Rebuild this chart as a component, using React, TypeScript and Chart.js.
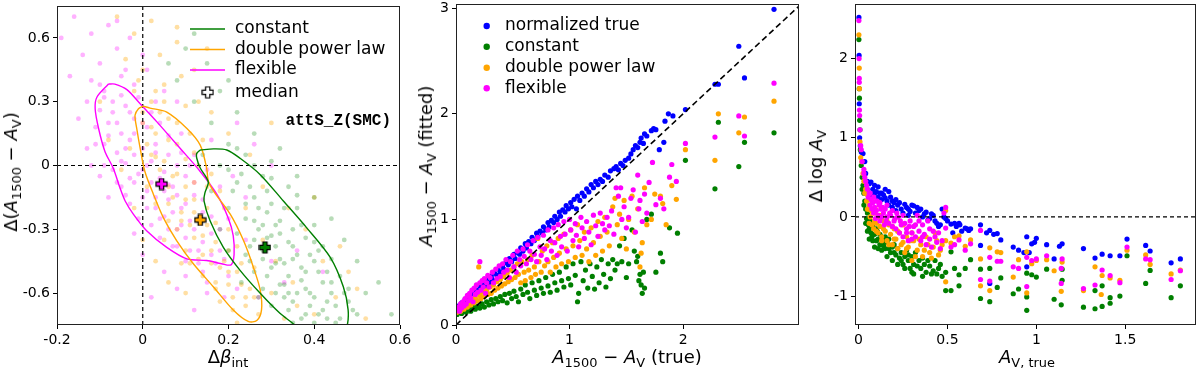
import React, { useEffect, useRef } from 'react';
import { Chart, registerables } from 'chart.js';
Chart.register(...registerables);

// ---------------- Panel 1 data ----------------
const p1XRange = [-0.2, 0.6];
const p1YRange = [-0.75, 0.75];
const p1XTicks = [-0.2, 0, 0.2, 0.4, 0.6];
const p1XTickLabels = ['-0.2', '0', '0.2', '0.4', '0.6'];
const p1YTicks = [-0.6, -0.3, 0, 0.3, 0.6];
const p1YTickLabels = ['-0.6', '-0.3', '0', '0.3', '0.6'];

const cloudFlexible = [[-0.16,0.7],[-0.12,0.62],[-0.08,0.66],[-0.14,0.52],[-0.1,0.48],[-0.06,0.55],[-0.03,0.6],[-0.17,0.42],[-0.12,0.4],[-0.09,0.35],[-0.05,0.42],[-0.02,0.38],[0.01,0.45],[-0.13,0.3],[-0.1,0.26],[-0.07,0.3],[-0.04,0.28],[-0.01,0.32],[0.02,0.25],[-0.11,0.18],[-0.08,0.2],[-0.05,0.15],[-0.02,0.22],[0.01,0.18],[0.04,0.2],[-0.09,0.1],[-0.06,0.06],[-0.03,0.12],[0,0.08],[0.03,0.1],[0.06,0.05],[-0.07,-0.02],[-0.04,0.01],[-0.01,-0.04],[0.02,0.02],[0.05,-0.03],[0.08,0.0],[-0.05,-0.1],[-0.02,-0.08],[0.01,-0.12],[0.04,-0.06],[0.07,-0.1],[0.1,-0.05],[-0.03,-0.18],[0,-0.15],[0.03,-0.2],[0.06,-0.16],[0.09,-0.2],[0.12,-0.14],[-0.01,-0.25],[0.02,-0.28],[0.05,-0.24],[0.08,-0.3],[0.11,-0.26],[0.14,-0.22],[0.04,-0.34],[0.07,-0.38],[0.1,-0.34],[0.13,-0.4],[0.16,-0.32],[0.18,-0.4],[0.1,-0.45],[0.14,-0.5],[0.17,-0.46],[0.2,-0.52],[0.15,-0.6],[0.19,-0.62],[0.22,-0.58],[0.12,-0.68],[-0.15,0.22],[-0.13,0.08],[-0.1,-0.05],[-0.08,-0.15],[0.09,0.15],[0.12,0.05],[0.15,-0.02],[0.18,-0.1],[0.2,-0.25],[0.24,-0.35],[0.3,-0.45],[0.33,-0.55],[0.27,-0.62],[0.36,-0.4],[0.26,0.1],[0.22,0.2],[0.05,0.35],[0.0,0.52],[-0.06,0.68],[0.08,0.3],[-0.19,0.6],[-0.02,-0.32],[0.0,-0.42],[0.05,-0.5],[0.08,-0.58],[0.02,-0.62],[-0.12,0.0],[0.16,0.12],[0.21,-0.05],[0.24,-0.15],[0.42,-0.5],[0.3,0.0],
  [-0.09,0.32],[-0.07,0.25],[-0.05,0.33],[-0.08,0.14],[-0.06,0.2],[-0.03,0.25],[-0.04,0.08],[-0.02,0.15],[0.0,0.2],[-0.05,0.02],[-0.02,0.05],[0.01,0.0],[0.03,0.06],[-0.03,-0.06],[0.0,-0.02],[0.02,-0.08],[0.05,-0.12],[0.03,-0.15],[0.06,-0.09],[0.08,-0.14],[0.01,-0.2],[0.04,-0.25],[0.07,-0.22],[0.1,-0.18],[0.06,-0.3],[0.09,-0.28],[0.12,-0.3],[0.08,-0.38],[0.11,-0.4],[0.14,-0.36],[0.16,-0.42],[0.13,-0.46],[0.19,-0.44],[0.12,-0.08],[0.14,-0.16],[0.16,-0.24],[0.18,-0.3],[-0.1,0.38],[-0.04,0.45],[0.03,0.3],[0.06,0.14],[0.09,0.06],[0.11,0.0],[-0.11,0.1],[-0.09,0.0],[-0.06,-0.08],[-0.04,-0.14],[0.15,-0.55],[0.1,-0.52]];
const cloudDouble = [[-0.06,0.7],[-0.02,0.62],[0.02,0.68],[-0.04,0.5],[0.0,0.45],[0.04,0.52],[0.08,0.58],[-0.02,0.35],[0.02,0.3],[0.05,0.38],[0.09,0.42],[0.0,0.2],[0.03,0.15],[0.06,0.22],[0.1,0.28],[0.13,0.3],[0.02,0.05],[0.05,0.02],[0.08,0.1],[0.11,0.15],[0.14,0.12],[0.04,-0.08],[0.07,-0.05],[0.1,-0.1],[0.13,0.0],[0.16,-0.04],[0.06,-0.18],[0.09,-0.22],[0.12,-0.16],[0.15,-0.2],[0.18,-0.12],[0.08,-0.3],[0.11,-0.28],[0.14,-0.33],[0.17,-0.27],[0.2,-0.3],[0.1,-0.4],[0.13,-0.44],[0.16,-0.4],[0.19,-0.45],[0.22,-0.38],[0.14,-0.52],[0.17,-0.55],[0.2,-0.5],[0.23,-0.56],[0.26,-0.48],[0.18,-0.64],[0.21,-0.68],[0.24,-0.62],[0.27,-0.7],[0.3,-0.6],[0.22,-0.74],[0.33,-0.72],[0.36,-0.66],[0.4,-0.7],[0.45,-0.62],[0.5,-0.58],[0.42,-0.45],[0.38,-0.3],[0.46,-0.38],[0.34,-0.2],[0.28,-0.1],[0.25,0.05],[0.2,0.15],[0.16,0.25],[0.12,0.45],[-0.1,0.3],[-0.08,0.12],[-0.05,-0.02],[-0.02,-0.2],[0.0,-0.35],[0.03,-0.45],[0.06,-0.55],[0.1,-0.6],[0.24,-0.2],[0.28,-0.35],[0.31,-0.45],[0.35,-0.55],[0.08,0.65],[0.15,0.55],[0.52,-0.72],[0.48,-0.5],[0.4,-0.15],[0.3,0.2],[0.05,-0.35],[0.09,-0.46],[0.12,-0.08],[0.01,-0.1],[-0.03,0.08],
  [0.0,0.25],[0.02,0.18],[0.04,0.25],[0.01,0.1],[0.03,0.04],[0.06,0.12],[0.04,-0.02],[0.06,-0.1],[0.08,-0.04],[0.1,0.03],[0.07,-0.15],[0.1,-0.16],[0.12,-0.22],[0.09,-0.26],[0.12,-0.34],[0.15,-0.28],[0.14,-0.42],[0.17,-0.36],[0.18,-0.48],[0.16,-0.46],[0.2,-0.56],[0.22,-0.5],[0.21,-0.62],[0.24,-0.66],[0.25,-0.58],[0.19,-0.2],[0.15,-0.1],[0.12,0.06],[0.08,0.2],[0.05,0.3],[0.13,-0.26],[0.11,-0.46],[0.06,-0.26],[0.03,-0.18],[0.2,-0.4],[0.23,-0.46],[0.26,-0.62],[0.17,-0.58],[0.03,0.35],[-0.01,0.4]];
const cloudConstant = [[0.1,0.55],[0.15,0.48],[0.08,0.4],[0.18,0.35],[0.12,0.3],[0.22,0.25],[0.16,0.2],[0.26,0.15],[0.2,0.1],[0.24,0.05],[0.3,0.02],[0.18,0.0],[0.28,-0.05],[0.22,-0.08],[0.34,-0.1],[0.26,-0.15],[0.3,-0.18],[0.2,-0.2],[0.36,-0.2],[0.24,-0.25],[0.28,-0.28],[0.32,-0.26],[0.4,-0.28],[0.22,-0.32],[0.26,-0.35],[0.3,-0.33],[0.34,-0.36],[0.38,-0.34],[0.42,-0.38],[0.24,-0.42],[0.28,-0.4],[0.32,-0.44],[0.36,-0.42],[0.4,-0.45],[0.44,-0.44],[0.26,-0.5],[0.3,-0.48],[0.34,-0.52],[0.38,-0.5],[0.42,-0.55],[0.46,-0.52],[0.28,-0.58],[0.32,-0.56],[0.36,-0.6],[0.4,-0.62],[0.44,-0.6],[0.48,-0.64],[0.3,-0.66],[0.34,-0.68],[0.38,-0.7],[0.42,-0.68],[0.46,-0.72],[0.5,-0.7],[0.35,-0.74],[0.4,-0.74],[0.45,-0.74],[0.52,-0.6],[0.55,-0.55],[0.5,-0.45],[0.47,-0.35],[0.44,-0.25],[0.4,-0.15],[0.36,-0.05],[0.32,0.08],[0.25,-0.45],[0.2,-0.4],[0.18,-0.3],[0.16,-0.12],[0.14,0.05],[0.38,-0.58],[0.33,-0.62],[0.29,-0.22],[0.27,-0.62],[0.23,-0.55],[0.37,-0.48],[0.41,-0.4],[0.35,-0.3],[0.31,-0.38],[0.27,-0.3],[0.33,-0.46],[0.39,-0.66],[0.43,-0.5],[0.48,-0.58],[0.58,-0.7],[0.12,0.62],[0.06,0.48],[0.2,0.4],
  [0.2,-0.02],[0.23,-0.04],[0.21,-0.12],[0.25,-0.1],[0.24,-0.18],[0.27,-0.2],[0.29,-0.12],[0.31,-0.28],[0.33,-0.2],[0.26,-0.26],[0.29,-0.34],[0.32,-0.32],[0.35,-0.38],[0.37,-0.28],[0.31,-0.46],[0.35,-0.44],[0.39,-0.42],[0.29,-0.52],[0.33,-0.56],[0.37,-0.54],[0.41,-0.5],[0.35,-0.64],[0.39,-0.6],[0.43,-0.64],[0.37,-0.72],[0.41,-0.7],[0.45,-0.66],[0.47,-0.6],[0.44,-0.55],[0.4,-0.36],[0.36,-0.14],[0.3,-0.06],[0.26,0.0],[0.22,0.08],[0.28,-0.44],[0.34,-0.6],[0.43,-0.72],[0.49,-0.68],[0.31,-0.6],[0.25,-0.38]];

const contourFlexible = [[-0.08,0.383],[-0.107,0.321],[-0.111,0.267],[-0.103,0.174],[-0.088,0.065],[-0.069,-0.012],[-0.053,-0.106],[-0.041,-0.167],[-0.022,-0.229],[0.009,-0.307],[0.056,-0.385],[0.103,-0.439],[0.149,-0.447],[0.184,-0.462],[0.206,-0.467],[0.213,-0.42],[0.211,-0.33],[0.2,-0.25],[0.173,-0.136],[0.134,-0.028],[0.087,0.081],[0.033,0.205],[-0.006,0.29],[-0.037,0.357],[-0.065,0.383],[-0.08,0.383]];
const contourDouble = [[0.001,0.279],[-0.01,0.267],[-0.018,0.236],[-0.014,0.174],[-0.006,0.081],[0.005,-0.028],[0.025,-0.136],[0.048,-0.245],[0.079,-0.353],[0.118,-0.462],[0.165,-0.571],[0.211,-0.679],[0.246,-0.733],[0.266,-0.729],[0.277,-0.679],[0.274,-0.586],[0.258,-0.478],[0.235,-0.353],[0.204,-0.229],[0.165,-0.121],[0.153,-0.074],[0.149,-0.012],[0.134,0.096],[0.103,0.174],[0.056,0.251],[0.017,0.27],[0.001,0.279]];
const contourConstant = [[0.134,0.073],[0.165,0.078],[0.196,0.073],[0.227,0.034],[0.274,-0.043],[0.328,-0.167],[0.382,-0.292],[0.437,-0.431],[0.468,-0.571],[0.479,-0.679],[0.476,-0.76],[0.46,-0.82],[0.38,-0.8],[0.351,-0.744],[0.32,-0.695],[0.274,-0.601],[0.227,-0.493],[0.188,-0.385],[0.157,-0.26],[0.143,-0.167],[0.145,-0.129],[0.153,-0.082],[0.149,-0.059],[0.134,-0.012],[0.126,0.034],[0.126,0.057],[0.134,0.073]];

const medianFlexible = [[0.044, -0.087]];
const medianDouble = [[0.134, -0.256]];
const medianConstant = [[0.285, -0.385]];
const p1ZeroV = [[0, -0.75], [0, 0.75]];
const p1ZeroH = [[-0.2, 0], [0.6, 0]];

// ---------------- Panel 2 data ----------------
const p2XRange = [0, 3.02];
const p2YRange = [0, 3.04];
const p2XTicks = [0, 1, 2];
const p2XTickLabels = ['0', '1', '2'];
const p2YTicks = [0, 1, 2, 3];
const p2YTickLabels = ['0', '1', '2', '3'];

const p2True = [[0.01,0.14],[0.02,0.18],[0.04,0.16],[0.05,0.21],[0.07,0.19],[0.08,0.24],[0.1,0.22],[0.11,0.27],[0.13,0.25],[0.14,0.3],[0.16,0.28],[0.18,0.33],[0.19,0.31],[0.21,0.37],[0.22,0.34],[0.24,0.39],[0.26,0.37],[0.27,0.43],[0.29,0.4],[0.31,0.46],[0.32,0.43],[0.34,0.49],[0.36,0.47],[0.37,0.53],[0.39,0.5],[0.41,0.56],[0.42,0.53],[0.44,0.59],[0.46,0.57],[0.47,0.63],[0.49,0.6],[0.51,0.67],[0.52,0.63],[0.54,0.69],[0.56,0.67],[0.57,0.73],[0.59,0.7],[0.61,0.77],[0.62,0.73],[0.64,0.79],[0.66,0.77],[0.67,0.83],[0.69,0.8],[0.71,0.87],[0.72,0.84],[0.74,0.89],[0.76,0.87],[0.77,0.93],[0.79,0.9],[0.81,0.97],[0.82,0.93],[0.84,0.99],[0.86,0.97],[0.87,1.03],[0.89,1.0],[0.91,1.07],[0.92,1.03],[0.94,1.09],[0.96,1.07],[0.97,1.13],[0.99,1.1],[1.01,1.16],[1.02,1.12],[1.04,1.19],[1.06,1.1],[1.07,1.22],[1.09,1.18],[1.11,1.25],[1.13,1.22],[1.15,1.29],[1.17,1.26],[1.19,1.33],[1.21,1.3],[1.23,1.36],[1.25,1.33],[1.27,1.38],[1.29,1.36],[1.31,1.42],[1.34,1.4],[1.36,1.46],[1.39,1.48],[1.41,1.5],[1.43,1.47],[1.45,1.53],[1.47,1.51],[1.49,1.56],[1.52,1.58],[1.54,1.62],[1.56,1.66],[1.58,1.7],[1.6,1.68],[1.62,1.73],[1.63,1.77],[1.65,1.72],[1.66,1.81],[1.68,1.79],[1.72,1.84],[1.74,1.86],[1.76,1.85],[1.79,1.66],[1.83,1.73],[1.84,1.93],[1.87,2.0],[1.91,1.98],[2.02,2.04],[2.28,2.28],[2.31,2.28],[2.49,2.64],[2.54,2.34],[2.8,2.99]];
const p2Constant = [[0.01,0.1],[0.03,0.12],[0.05,0.11],[0.07,0.14],[0.09,0.12],[0.11,0.15],[0.13,0.13],[0.15,0.17],[0.17,0.15],[0.19,0.18],[0.21,0.16],[0.23,0.2],[0.25,0.17],[0.27,0.22],[0.29,0.19],[0.31,0.24],[0.33,0.2],[0.35,0.25],[0.37,0.22],[0.39,0.27],[0.41,0.23],[0.43,0.29],[0.45,0.21],[0.47,0.3],[0.49,0.25],[0.51,0.32],[0.53,0.27],[0.55,0.22],[0.57,0.34],[0.59,0.29],[0.61,0.38],[0.63,0.31],[0.65,0.25],[0.67,0.4],[0.69,0.33],[0.71,0.28],[0.73,0.42],[0.75,0.35],[0.77,0.3],[0.79,0.45],[0.81,0.37],[0.83,0.31],[0.85,0.48],[0.87,0.4],[0.89,0.33],[0.91,0.5],[0.93,0.42],[0.95,0.36],[0.97,0.55],[0.99,0.44],[1.01,0.38],[1.03,0.58],[1.05,0.47],[1.07,0.22],[1.08,0.3],[1.1,0.6],[1.12,0.42],[1.14,0.52],[1.16,0.35],[1.18,0.58],[1.2,0.46],[1.22,0.34],[1.24,0.55],[1.26,0.4],[1.28,0.62],[1.3,0.48],[1.32,0.36],[1.34,0.58],[1.36,0.44],[1.38,0.62],[1.4,0.52],[1.42,0.58],[1.44,0.75],[1.46,0.6],[1.48,0.82],[1.5,0.45],[1.52,0.58],[1.55,0.9],[1.57,0.7],[1.59,0.6],[1.6,0.65],[1.61,0.42],[1.62,0.48],[1.63,0.38],[1.64,0.3],[1.65,0.5],[1.66,0.35],[1.68,1.0],[1.72,1.05],[1.76,0.5],[1.8,0.68],[1.82,0.6],[1.88,0.92],[1.95,0.87],[2.02,1.56],[2.28,1.29],[2.31,1.92],[2.49,1.5],[2.54,1.73],[2.8,1.82]];
const p2Double = [[0.01,0.12],[0.02,0.15],[0.04,0.13],[0.05,0.17],[0.07,0.15],[0.08,0.19],[0.1,0.17],[0.11,0.21],[0.13,0.19],[0.14,0.24],[0.16,0.21],[0.17,0.26],[0.19,0.23],[0.2,0.55],[0.21,0.28],[0.22,0.25],[0.24,0.31],[0.25,0.27],[0.27,0.33],[0.28,0.29],[0.3,0.36],[0.31,0.3],[0.33,0.38],[0.34,0.33],[0.36,0.41],[0.37,0.35],[0.39,0.43],[0.4,0.37],[0.42,0.46],[0.43,0.39],[0.45,0.49],[0.46,0.41],[0.48,0.52],[0.49,0.43],[0.51,0.55],[0.52,0.45],[0.54,0.58],[0.55,0.48],[0.57,0.4],[0.58,0.6],[0.6,0.5],[0.61,0.42],[0.63,0.62],[0.64,0.52],[0.66,0.45],[0.67,0.66],[0.69,0.55],[0.7,0.48],[0.72,0.82],[0.73,0.6],[0.75,0.5],[0.76,0.7],[0.78,0.56],[0.8,0.75],[0.81,0.6],[0.83,0.5],[0.85,0.78],[0.86,0.64],[0.88,0.55],[0.9,0.82],[0.91,0.68],[0.93,0.58],[0.95,0.86],[0.97,0.72],[0.99,0.6],[1.01,0.9],[1.03,0.75],[1.05,0.64],[1.07,0.95],[1.09,0.8],[1.11,0.66],[1.13,0.88],[1.15,0.72],[1.17,0.6],[1.19,0.92],[1.21,0.78],[1.23,0.66],[1.25,0.98],[1.27,0.84],[1.29,0.7],[1.31,1.02],[1.33,0.88],[1.35,0.75],[1.38,1.12],[1.4,1.2],[1.42,0.95],[1.44,1.05],[1.46,0.82],[1.48,1.18],[1.5,0.72],[1.52,1.0],[1.55,1.22],[1.57,0.88],[1.6,1.1],[1.62,0.55],[1.63,0.68],[1.64,0.78],[1.66,1.3],[1.68,0.95],[1.72,1.0],[1.75,1.24],[1.8,1.22],[1.82,1.15],[1.85,0.95],[1.9,1.32],[1.94,1.19],[2.02,1.66],[2.28,1.56],[2.31,2.0],[2.49,1.82],[2.54,1.97],[2.8,2.12]];
const p2Flexible = [[0.01,0.14],[0.02,0.17],[0.03,0.13],[0.04,0.2],[0.05,0.16],[0.06,0.22],[0.07,0.18],[0.08,0.25],[0.09,0.2],[0.1,0.28],[0.11,0.23],[0.12,0.3],[0.13,0.26],[0.14,0.33],[0.15,0.22],[0.16,0.35],[0.17,0.29],[0.18,0.38],[0.19,0.31],[0.21,0.6],[0.21,0.4],[0.22,0.33],[0.23,0.42],[0.24,0.36],[0.25,0.44],[0.26,0.3],[0.27,0.4],[0.28,0.47],[0.29,0.36],[0.3,0.45],[0.32,0.5],[0.33,0.4],[0.35,0.53],[0.36,0.44],[0.38,0.56],[0.39,0.46],[0.41,0.58],[0.42,0.5],[0.44,0.62],[0.45,0.52],[0.47,0.45],[0.48,0.6],[0.5,0.66],[0.51,0.55],[0.53,0.5],[0.54,0.7],[0.56,0.62],[0.57,0.56],[0.59,0.72],[0.6,0.65],[0.62,0.58],[0.63,0.76],[0.65,0.7],[0.66,0.62],[0.68,0.8],[0.69,0.67],[0.71,0.6],[0.72,0.83],[0.74,0.74],[0.75,0.66],[0.77,0.85],[0.78,0.72],[0.8,0.62],[0.81,0.9],[0.83,0.8],[0.84,0.7],[0.86,0.92],[0.87,0.78],[0.89,0.66],[0.9,0.95],[0.92,0.84],[0.93,0.74],[0.95,0.98],[0.96,0.86],[0.98,0.7],[1.0,1.0],[1.01,0.9],[1.03,0.8],[1.05,0.96],[1.06,0.85],[1.08,0.74],[1.1,1.02],[1.11,0.92],[1.13,0.82],[1.15,0.98],[1.17,0.88],[1.19,0.76],[1.21,1.04],[1.23,0.94],[1.25,0.84],[1.27,1.06],[1.29,0.96],[1.31,0.9],[1.33,1.02],[1.35,0.94],[1.37,1.08],[1.39,0.86],[1.41,1.3],[1.43,1.22],[1.45,1.3],[1.46,1.0],[1.48,1.12],[1.5,0.92],[1.52,1.02],[1.54,1.2],[1.56,1.28],[1.58,0.88],[1.6,1.42],[1.61,1.1],[1.62,1.18],[1.64,0.98],[1.66,1.24],[1.68,1.06],[1.7,1.35],[1.73,1.54],[1.76,1.14],[1.8,1.2],[1.83,1.1],[1.88,1.4],[1.9,1.52],[1.94,1.36],[2.02,1.72],[2.28,1.78],[2.49,1.98],[2.54,1.79],[2.8,2.29]];
const p2Diagonal = [[0, 0], [3.1, 3.1]];

// ---------------- Panel 3 data ----------------
const p3XRange = [-0.02, 1.898];
const p3YRange = [-1.365, 2.69];
const p3XTicks = [0, 0.5, 1, 1.5];
const p3XTickLabels = ['0', '0.5', '1', '1.5'];
const p3YTicks = [-1, 0, 1, 2];
const p3YTickLabels = ['-1', '0', '1', '2'];

const p3True = [[0.002,2.52],[0.003,2.04],[0.004,1.43],[0.006,1.0],[0.01,0.9],[0.015,0.82],[0.025,0.8],[0.035,0.7],[0.04,0.55],[0.05,0.45],[0.06,0.42],[0.07,0.44],[0.08,0.35],[0.09,0.3],[0.1,0.32],[0.11,0.25],[0.12,0.3],[0.13,0.22],[0.14,0.28],[0.15,0.35],[0.16,0.2],[0.17,0.15],[0.18,0.25],[0.19,0.12],[0.2,0.18],[0.21,0.08],[0.22,0.15],[0.24,0.1],[0.25,0.05],[0.27,0.12],[0.28,0.02],[0.3,0.15],[0.31,0.14],[0.32,0.05],[0.34,0.08],[0.36,0.0],[0.38,0.06],[0.4,-0.02],[0.41,0.04],[0.43,-0.05],[0.45,-0.12],[0.47,0.1],[0.48,0.0],[0.49,-0.02],[0.52,-0.09],[0.53,-0.2],[0.55,-0.12],[0.565,-0.08],[0.58,-0.18],[0.6,-0.14],[0.61,-0.15],[0.63,-0.15],[0.686,-0.1],[0.686,-0.36],[0.72,-0.2],[0.738,-0.17],[0.738,-0.84],[0.76,-0.22],[0.78,-0.21],[0.8,-0.29],[0.87,-0.38],[0.9,-0.42],[0.93,-0.45],[0.946,-0.25],[0.946,-0.63],[0.96,-0.45],[0.974,-0.34],[0.99,-0.32],[1.0,-0.27],[1.058,-0.35],[1.1,-0.53],[1.13,-0.37],[1.145,-0.34],[1.265,-0.4],[1.33,-0.52],[1.37,-0.47],[1.415,-0.49],[1.47,-0.49],[1.51,-0.28],[1.615,-0.36],[1.64,-0.43],[1.758,-0.58],[1.81,-0.53],
  [0.05,0.35],[0.07,0.28],[0.09,0.4],[0.11,0.38],[0.13,0.3],[0.15,0.24],[0.17,0.32],[0.19,0.2],[0.21,0.22],[0.23,0.18],[0.26,0.16],[0.28,0.1],[0.29,0.07],[0.33,0.12],[0.35,0.1],[0.37,0.04],[0.39,-0.04],[0.42,0.02],[0.44,-0.08],[0.46,-0.1],[0.5,-0.05],[0.54,-0.08],[0.57,-0.1],[0.62,-0.17]];
const p3Constant = [[0.002,2.24],[0.004,1.62],[0.005,1.5],[0.006,1.22],[0.008,1.1],[0.01,0.85],[0.015,0.65],[0.02,0.5],[0.025,0.4],[0.03,0.3],[0.035,0.2],[0.04,0.1],[0.045,-0.02],[0.05,0.05],[0.055,-0.1],[0.06,-0.15],[0.065,-0.05],[0.07,-0.2],[0.075,-0.25],[0.08,-0.12],[0.09,-0.22],[0.1,-0.3],[0.105,-0.18],[0.11,-0.28],[0.12,-0.35],[0.13,-0.25],[0.14,-0.3],[0.15,-0.4],[0.16,-0.32],[0.17,-0.28],[0.18,-0.45],[0.19,-0.38],[0.2,-0.35],[0.21,-0.48],[0.22,-0.4],[0.23,-0.52],[0.24,-0.45],[0.25,-0.6],[0.26,-0.5],[0.27,-0.42],[0.28,-0.55],[0.29,-0.65],[0.3,-0.7],[0.3,-0.5],[0.31,-0.6],[0.32,-0.45],[0.34,-0.55],[0.35,-0.65],[0.36,-0.52],[0.37,-0.6],[0.38,-0.7],[0.4,-0.62],[0.42,-0.68],[0.43,-0.55],[0.44,-0.72],[0.46,-0.6],[0.49,-0.7],[0.49,-0.93],[0.52,-0.44],[0.52,-0.93],[0.54,-0.65],[0.565,-0.73],[0.565,-0.87],[0.6,-0.65],[0.63,-0.54],[0.686,-0.66],[0.686,-1.03],[0.738,-0.65],[0.738,-1.07],[0.78,-0.89],[0.8,-0.77],[0.87,-0.97],[0.9,-0.91],[0.946,-0.71],[0.946,-1.01],[0.946,-1.18],[0.974,-0.73],[1.0,-0.76],[1.058,-0.66],[1.1,-1.04],[1.14,-1.11],[1.145,-0.66],[1.145,-0.8],[1.265,-1.14],[1.33,-0.93],[1.33,-1.16],[1.37,-0.87],[1.37,-1.13],[1.415,-1.02],[1.415,-1.09],[1.47,-1.0],[1.51,-0.49],[1.615,-0.84],[1.64,-0.675],[1.758,-1.02],[1.81,-0.87],
  [0.02,0.35],[0.03,0.15],[0.04,-0.08],[0.05,-0.18],[0.06,-0.28],[0.07,-0.1],[0.08,-0.3],[0.09,-0.38],[0.1,-0.15],[0.11,-0.4],[0.12,-0.22],[0.13,-0.42],[0.14,-0.36],[0.15,-0.25],[0.16,-0.5],[0.17,-0.4],[0.19,-0.55],[0.2,-0.45],[0.22,-0.6],[0.24,-0.55],[0.26,-0.65],[0.28,-0.48],[0.31,-0.72],[0.33,-0.62],[0.36,-0.75],[0.39,-0.55],[0.41,-0.72],[0.45,-0.65],[0.47,-0.75]];
const p3Double = [[0.002,2.3],[0.004,1.88],[0.005,1.62],[0.008,0.95],[0.012,0.75],[0.018,0.7],[0.025,0.55],[0.03,0.45],[0.04,0.35],[0.045,0.2],[0.05,0.28],[0.055,0.1],[0.06,0.15],[0.065,0.0],[0.07,0.08],[0.075,-0.1],[0.08,0.05],[0.085,-0.15],[0.09,-0.05],[0.095,0.1],[0.1,-0.08],[0.11,-0.2],[0.115,0.0],[0.12,-0.12],[0.13,-0.25],[0.14,-0.05],[0.15,-0.18],[0.16,-0.3],[0.17,-0.1],[0.18,-0.22],[0.19,-0.35],[0.2,-0.15],[0.21,-0.28],[0.22,-0.4],[0.23,-0.2],[0.25,-0.32],[0.26,-0.45],[0.27,-0.25],[0.28,-0.38],[0.3,-0.55],[0.3,-0.2],[0.31,-0.3],[0.33,-0.42],[0.35,-0.35],[0.36,-0.5],[0.38,-0.25],[0.4,-0.45],[0.42,-0.38],[0.44,-0.3],[0.46,-0.42],[0.49,0.08],[0.49,-0.3],[0.49,-0.82],[0.52,-0.33],[0.54,-0.25],[0.565,-0.24],[0.6,-0.37],[0.63,-0.29],[0.686,-0.53],[0.686,-0.87],[0.738,-0.39],[0.738,-0.93],[0.78,-0.44],[0.8,-0.45],[0.87,-0.76],[0.9,-0.54],[0.946,-0.44],[0.946,-0.96],[0.974,-0.59],[1.0,-0.55],[1.058,-0.54],[1.1,-0.68],[1.14,-0.94],[1.145,-0.57],[1.265,-0.93],[1.33,-0.63],[1.37,-0.74],[1.365,-0.98],[1.415,-0.77],[1.47,-0.8],[1.51,-0.42],[1.615,-0.48],[1.64,-0.6],[1.758,-0.72],[1.81,-0.67],
  [0.035,0.3],[0.05,0.1],[0.06,-0.08],[0.075,0.2],[0.09,0.05],[0.1,-0.18],[0.12,0.02],[0.13,-0.3],[0.14,-0.15],[0.16,-0.05],[0.17,-0.35],[0.19,-0.12],[0.2,-0.28],[0.22,-0.18],[0.24,-0.35],[0.25,-0.1],[0.27,-0.4],[0.29,-0.3],[0.32,-0.5],[0.34,-0.28],[0.37,-0.42],[0.39,-0.35],[0.41,-0.52],[0.43,-0.2],[0.45,-0.48],[0.47,-0.35]];
const p3Flexible = [[0.002,2.48],[0.003,2.0],[0.004,1.75],[0.004,1.7],[0.005,1.35],[0.006,1.28],[0.008,1.1],[0.012,0.9],[0.015,0.85],[0.02,0.7],[0.03,0.6],[0.035,0.5],[0.04,0.45],[0.05,0.35],[0.055,0.25],[0.06,0.3],[0.065,0.15],[0.07,0.22],[0.075,0.1],[0.08,0.18],[0.085,0.05],[0.09,0.12],[0.095,-0.02],[0.1,0.08],[0.105,0.2],[0.11,0.02],[0.115,0.15],[0.12,-0.05],[0.125,0.1],[0.13,0.0],[0.14,0.05],[0.145,-0.1],[0.15,0.1],[0.155,-0.05],[0.16,0.0],[0.17,-0.08],[0.18,0.02],[0.19,-0.12],[0.2,-0.05],[0.21,-0.15],[0.22,0.0],[0.23,-0.2],[0.24,-0.1],[0.25,-0.25],[0.26,-0.08],[0.27,-0.15],[0.28,-0.3],[0.29,-0.05],[0.3,-0.2],[0.31,-0.12],[0.32,-0.25],[0.33,0.02],[0.34,-0.18],[0.35,-0.3],[0.36,-0.1],[0.37,-0.22],[0.38,-0.35],[0.39,-0.05],[0.4,-0.28],[0.42,-0.18],[0.44,-0.32],[0.46,-0.4],[0.48,0.05],[0.49,0.12],[0.49,-0.14],[0.52,-0.38],[0.54,-0.35],[0.565,-0.29],[0.6,-0.42],[0.63,-0.34],[0.686,-0.17],[0.686,-0.79],[0.738,-0.51],[0.738,-0.81],[0.78,-0.56],[0.8,-0.56],[0.87,-0.63],[0.9,-0.65],[0.946,-0.51],[0.946,-0.88],[0.974,-0.55],[1.0,-0.53],[1.058,-0.49],[1.14,-0.65],[1.14,-0.84],[1.145,-0.53],[1.265,-0.905],[1.33,-0.86],[1.37,-0.67],[1.415,-0.74],[1.47,-0.83],[1.51,-0.38],[1.615,-0.53],[1.64,-0.54],[1.758,-0.79],[1.81,-0.68],
  [0.03,0.55],[0.045,0.4],[0.065,0.3],[0.085,0.25],[0.1,0.2],[0.12,0.18],[0.135,0.12],[0.16,0.15],[0.175,0.05],[0.19,0.08],[0.205,-0.02],[0.215,0.05],[0.235,-0.05],[0.25,0.02],[0.27,-0.2],[0.285,-0.12],[0.3,-0.28],[0.32,-0.1],[0.34,-0.05],[0.36,-0.25],[0.4,-0.15],[0.41,-0.38],[0.43,-0.25],[0.45,-0.2],[0.47,-0.3]];
const p3ZeroH = [[-0.02, 0], [1.898, 0]];

// ---------------- styling ----------------
const FONT = "'DejaVu Sans', 'Liberation Sans', sans-serif";
const BLUE = '#0000ff';
const GREEN = '#007f00';
const ORANGE = '#ffa500';
const MAGENTA = '#ff00ff';
const CANVAS_W = 1200;
const CANVAS_H = 370;
const Y_AXIS_W = 50;
const X_AXIS_H = 30;

const pts = (arr: number[][]) => arr.map(([x, y]) => ({ x, y }));

function plusImage(fill: string, size = 13) {
  const c = document.createElement('canvas');
  c.width = size; c.height = size;
  const ctx = c.getContext('2d')!;
  const h = size / 2, a = size / 2 - 1, w = 2.1;
  const poly = [[-w,-a],[w,-a],[w,-w],[a,-w],[a,w],[w,w],[w,a],[-w,a],[-w,w],[-a,w],[-a,-w],[-w,-w]];
  ctx.beginPath();
  poly.forEach(([x, y], i) => (i ? ctx.lineTo(h + x, h + y) : ctx.moveTo(h + x, h + y)));
  ctx.closePath();
  ctx.fillStyle = fill; ctx.fill();
  ctx.lineWidth = 1.2; ctx.strokeStyle = '#000'; ctx.stroke();
  return c;
}

function axis(range: number[], vals: number[], labels: string[], horizontal: boolean) {
  return {
    type: 'linear', min: range[0], max: range[1],
    afterBuildTicks: (s: any) => { s.ticks = vals.map((v) => ({ value: v })); },
    afterFit: (s: any) => {
      if (horizontal) { s.height = X_AXIS_H; s.paddingLeft = 0; s.paddingRight = 0; }
      else { s.width = Y_AXIS_W; s.paddingTop = 0; s.paddingBottom = 0; }
    },
    ticks: {
      autoSkip: false, maxRotation: 0, minRotation: 0, padding: 3, color: '#000',
      font: { family: FONT, size: 14 },
      callback: (_v: any, i: number) => labels[i],
    },
    grid: { drawOnChartArea: false, drawTicks: true, tickLength: 4, color: '#000', lineWidth: 1 },
    border: { display: false },
  };
}

const framePlugin = {
  id: 'frame',
  afterDraw(chart: any) {
    const { ctx, chartArea: { left, top, right, bottom } } = chart;
    ctx.save();
    ctx.strokeStyle = '#222';
    ctx.lineWidth = 1;
    ctx.strokeRect(left + 0.5, top + 0.5, right - left - 1, bottom - top - 1);
    ctx.restore();
  },
};

function padFor(L: number, R: number, T: number, B: number) {
  return { left: L - Y_AXIS_W, right: CANVAS_W - R, top: T, bottom: CANVAS_H - B - X_AXIS_H };
}

function baseOptions(pad: any, xa: any, ya: any) {
  return {
    responsive: false, animation: false, events: [],
    layout: { padding: pad },
    plugins: { legend: { display: false }, tooltip: { enabled: false } },
    scales: { x: xa, y: ya },
  };
}

function scatterSet(label: string, data: number[][], color: string, radius: number, order: number) {
  return { label, data: pts(data), backgroundColor: color, borderColor: color, pointRadius: radius, pointBorderWidth: 0, order };
}
function lineSet(label: string, data: number[][], color: string, width: number, dash: number[], order: number, tension = 0) {
  return { label, data: pts(data), showLine: true, borderColor: color, borderWidth: width, borderDash: dash, pointRadius: 0, tension, fill: false, order };
}

function cfg1(): any {
  const legend = {
    id: 'legend1',
    afterDraw(chart: any) {
      const { ctx, chartArea: { left, top, right } } = chart;
      ctx.save();
      const entries = [
        { c: GREEN, t: 'constant', dy: 23 },
        { c: ORANGE, t: 'double power law', dy: 43.5 },
        { c: MAGENTA, t: 'flexible', dy: 64 },
      ];
      ctx.font = `17px ${FONT}`;
      ctx.textBaseline = 'middle';
      ctx.textAlign = 'left';
      for (const e of entries) {
        ctx.strokeStyle = e.c; ctx.lineWidth = 1.5;
        ctx.beginPath(); ctx.moveTo(left + 133, top + e.dy); ctx.lineTo(left + 168, top + e.dy); ctx.stroke();
        ctx.fillStyle = '#000'; ctx.fillText(e.t, left + 178, top + e.dy);
      }
      const img = plusImage('#ffffff');
      ctx.drawImage(img, left + 150.7 - img.width / 2, top + 86.3 - img.height / 2);
      ctx.fillStyle = '#000'; ctx.fillText('median', left + 178, top + 86.3);
      ctx.font = `bold 16px 'Liberation Mono', 'DejaVu Sans Mono', monospace`;
      ctx.textAlign = 'right';
      ctx.fillText('attS_Z(SMC)', right - 9, top + 115);
      ctx.restore();
    },
  };
  return {
    type: 'scatter',
    data: {
      datasets: [
        { ...scatterSet('median constant', medianConstant, GREEN, 6, 0), pointStyle: plusImage(GREEN) },
        { ...scatterSet('median double power law', medianDouble, ORANGE, 6, 0), pointStyle: plusImage(ORANGE) },
        { ...scatterSet('median flexible', medianFlexible, MAGENTA, 6, 0), pointStyle: plusImage(MAGENTA) },
        lineSet('constant', contourConstant, GREEN, 1.4, [], 1, 0.3),
        lineSet('double power law', contourDouble, ORANGE, 1.4, [], 1, 0.3),
        lineSet('flexible', contourFlexible, MAGENTA, 1.4, [], 1, 0.3),
        lineSet('zero x', p1ZeroV, '#000', 1.2, [4, 3], 2),
        lineSet('zero y', p1ZeroH, '#000', 1.2, [4, 3], 2),
        scatterSet('cloud flexible', cloudFlexible, 'rgba(255,0,255,0.3)', 2.4, 5),
        scatterSet('cloud double', cloudDouble, 'rgba(255,165,0,0.36)', 2.4, 4),
        scatterSet('cloud constant', cloudConstant, 'rgba(0,128,0,0.28)', 2.4, 3),
      ],
    },
    options: baseOptions(padFor(57, 400, 3, 325), axis(p1XRange, p1XTicks, p1XTickLabels, true), axis(p1YRange, p1YTicks, p1YTickLabels, false)),
    plugins: [framePlugin, legend],
  };
}

function cfg2(): any {
  const legend = {
    id: 'legend2',
    afterDraw(chart: any) {
      const { ctx, chartArea: { left, top } } = chart;
      ctx.save();
      const entries = [
        { c: BLUE, t: 'normalized true', dy: 22 },
        { c: GREEN, t: 'constant', dy: 42.7 },
        { c: ORANGE, t: 'double power law', dy: 63.7 },
        { c: MAGENTA, t: 'flexible', dy: 84.3 },
      ];
      ctx.font = `17px ${FONT}`;
      ctx.textBaseline = 'middle';
      for (const e of entries) {
        ctx.fillStyle = e.c;
        ctx.beginPath(); ctx.arc(left + 30.7, top + e.dy, 3.2, 0, Math.PI * 2); ctx.fill();
        ctx.fillStyle = '#000'; ctx.fillText(e.t, left + 49, top + e.dy);
      }
      ctx.restore();
    },
  };
  return {
    type: 'scatter',
    data: {
      datasets: [
        lineSet('one-to-one', p2Diagonal, '#000', 1.6, [6, 3.5], -1),
        scatterSet('flexible', p2Flexible, MAGENTA, 2.6, 0),
        scatterSet('double power law', p2Double, ORANGE, 2.6, 1),
        scatterSet('constant', p2Constant, GREEN, 2.6, 2),
        scatterSet('normalized true', p2True, BLUE, 2.6, 3),
      ],
    },
    options: baseOptions(padFor(456, 799, 3, 325), axis(p2XRange, p2XTicks, p2XTickLabels, true), axis(p2YRange, p2YTicks, p2YTickLabels, false)),
    plugins: [framePlugin, legend],
  };
}

function cfg3(): any {
  return {
    type: 'scatter',
    data: {
      datasets: [
        lineSet('zero', p3ZeroH, '#000', 1.2, [4, 3], -1),
        scatterSet('flexible', p3Flexible, MAGENTA, 2.6, 0),
        scatterSet('double power law', p3Double, ORANGE, 2.6, 1),
        scatterSet('constant', p3Constant, GREEN, 2.6, 2),
        scatterSet('normalized true', p3True, BLUE, 2.6, 3),
      ],
    },
    options: baseOptions(padFor(855, 1199, 3, 325), axis(p3XRange, p3XTicks, p3XTickLabels, true), axis(p3YRange, p3YTicks, p3YTickLabels, false)),
    plugins: [framePlugin],
  };
}

const Sub = ({ children }: any) => (
  <span style={{ fontSize: '0.72em', position: 'relative', top: '0.3em', fontStyle: 'normal' }}>{children}</span>
);
const It = ({ children }: any) => <span style={{ fontStyle: 'italic' }}>{children}</span>;

const labelBase: any = {
  position: 'absolute', fontFamily: FONT, fontSize: 18, color: '#000', whiteSpace: 'nowrap', lineHeight: 1,
};
function XLabel({ cx, cy, children }: any) {
  return <div style={{ ...labelBase, left: cx, top: cy, transform: 'translate(-50%, -50%)' }}>{children}</div>;
}
function YLabel({ cx, cy, children }: any) {
  return <div style={{ ...labelBase, left: cx, top: cy, transform: 'translate(-50%, -50%) rotate(-90deg)' }}>{children}</div>;
}

export default function App() {
  const r1 = useRef<HTMLCanvasElement>(null);
  const r2 = useRef<HTMLCanvasElement>(null);
  const r3 = useRef<HTMLCanvasElement>(null);
  useEffect(() => {
    const charts = [
      new Chart(r1.current!, cfg1()),
      new Chart(r2.current!, cfg2()),
      new Chart(r3.current!, cfg3()),
    ];
    return () => charts.forEach((c) => c.destroy());
  }, []);
  const cs: any = { position: 'absolute', left: 0, top: 0, width: CANVAS_W, height: CANVAS_H };
  return (
    <div style={{ position: 'absolute', left: 0, top: 0, width: CANVAS_W, height: CANVAS_H, overflow: 'hidden', background: '#fff' }}>
      <canvas ref={r1} width={CANVAS_W} height={CANVAS_H} style={cs} />
      <canvas ref={r2} width={CANVAS_W} height={CANVAS_H} style={cs} />
      <canvas ref={r3} width={CANVAS_W} height={CANVAS_H} style={cs} />
      <XLabel cx={228} cy={357}>Δ<It>β</It><Sub>int</Sub></XLabel>
      <YLabel cx={11} cy={172}>Δ(<It>A</It><Sub>1500</Sub> − <It>A</It><Sub>V</Sub>)</YLabel>
      <XLabel cx={627} cy={357}><It>A</It><Sub>1500</Sub> − <It>A</It><Sub>V</Sub> (true)</XLabel>
      <YLabel cx={426} cy={166}><It>A</It><Sub>1500</Sub> − <It>A</It><Sub>V</Sub> (fitted)</YLabel>
      <XLabel cx={1027} cy={357}><It>A</It><Sub>V, true</Sub></XLabel>
      <YLabel cx={816} cy={166}>Δ log <It>A</It><Sub>V</Sub></YLabel>
    </div>
  );
}
